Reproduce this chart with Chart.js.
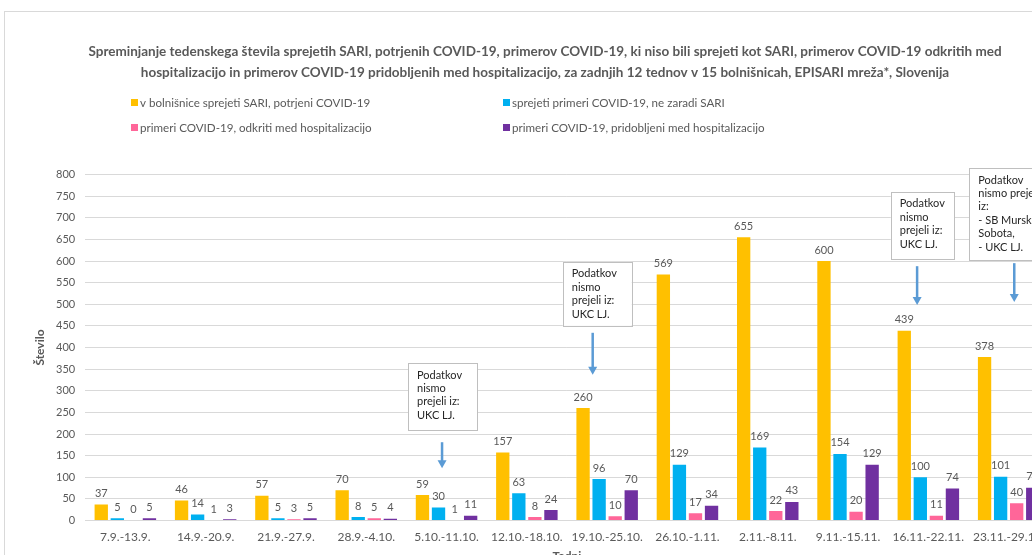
<!DOCTYPE html>
<html><head><meta charset="utf-8">
<script src="https://cdn.jsdelivr.net/npm/chart.js@4.4.0/dist/chart.umd.min.js"></script>
<style>
html,body{margin:0;padding:0;background:#fff;overflow:hidden;width:1032px;height:555px;}
#frame{position:absolute;left:4px;top:11px;width:1100px;height:600px;border:1px solid #d9d9d9;box-sizing:border-box;}
#wrap{position:absolute;left:0;top:0;width:1100px;height:600px;}
</style></head><body>
<div id="frame"></div>
<div id="wrap"><canvas id="c" width="1100" height="600"></canvas></div>
<script>
const categories = ["7.9.-13.9.","14.9.-20.9.","21.9.-27.9.","28.9.-4.10.","5.10.-11.10.","12.10.-18.10.","19.10.-25.10.","26.10.-1.11.","2.11.-8.11.","9.11.-15.11.","16.11.-22.11.","23.11.-29.11."];
const sariConfirmed = [37,46,57,70,59,157,260,569,655,600,439,378];
const notForSari    = [5,14,5,8,30,63,96,129,169,154,100,101];
const detectedInHosp = [0,1,3,5,1,8,10,17,22,20,11,40];
const acquiredInHosp = [5,3,5,4,11,24,70,34,43,129,74,76];
const seriesLabels = ["v bolnišnice sprejeti SARI, potrjeni COVID-19","sprejeti primeri COVID-19, ne zaradi SARI","primeri COVID-19, odkriti med hospitalizacijo","primeri COVID-19, pridobljeni med hospitalizacijo"];
const seriesColors = ["#FFC000","#00B0F0","#FF6699","#7030A0"];
const yTicksMax = 800, yTickStep = 50;
const titleLines = ["Spreminjanje tedenskega števila sprejetih SARI, potrjenih COVID-19, primerov COVID-19, ki niso bili sprejeti kot SARI, primerov COVID-19 odkritih med","hospitalizacijo in primerov COVID-19 pridobljenih med hospitalizacijo, za zadnjih 12 tednov v 15 bolnišnicah, EPISARI mreža*, Slovenija"];
const notes = [
  {lines:["Podatkov","nismo","prejeli iz:","UKC LJ."], x0:3.52, x1:4.38, yTop:364, yBot:209, ax:3.944, aFrom:181, aTo:121},
  {lines:["Podatkov","nismo","prejeli iz:","UKC LJ."], x0:5.447, x1:6.306, yTop:598, yBot:450, ax:5.82, aFrom:434, aTo:337},
  {lines:["Podatkov","nismo","prejeli iz:","UKC LJ."], x0:9.532, x1:10.32, yTop:760, yBot:605, ax:9.86, aFrom:588, aTo:498},
  {lines:["Podatkov","nismo prejeli","iz:","- SB Murska","Sobota,","- UKC LJ."], x0:10.51, x1:11.5, yTop:815, yBot:602, ax:11.07, aFrom:595, aTo:505}
];
const FONT = "Lato, 'Open Sans', sans-serif";
const GREY = "#595959";

const decor = {
  id:'decor',
  afterDraw(chart){
    const ctx = chart.ctx;
    const xs = chart.scales.x, ys = chart.scales.y;
    ctx.save();
    // title
    ctx.fillStyle = GREY;
    ctx.font = "bold 13.5px " + FONT;
    ctx.textAlign = 'center'; ctx.textBaseline = 'middle';
    ctx.fillText(titleLines[0], 545, 52);
    ctx.fillText(titleLines[1], 545, 73);
    // legend
    ctx.font = "11.6px " + FONT;
    ctx.textAlign = 'left';
    const cols = [131, 503], rows = [103, 128];
    seriesLabels.forEach((lab, i) => {
      const cx = cols[i % 2], cy = rows[Math.floor(i / 2)];
      ctx.fillStyle = seriesColors[i];
      ctx.fillRect(cx, cy - 4, 7, 7);
      ctx.fillStyle = GREY;
      ctx.fillText(lab, cx + 9, cy);
    });
    // data labels
    ctx.font = "11px " + FONT;
    ctx.textAlign = 'center';
    ctx.fillStyle = GREY;
    chart.data.datasets.forEach((ds, di) => {
      const meta = chart.getDatasetMeta(di);
      meta.data.forEach((el, j) => {
        ctx.fillText(String(ds.data[j]), el.x, el.y - 11);
      });
    });
    // notes
    notes.forEach(n => {
      const l = xs.getPixelForValue(n.x0), r = xs.getPixelForValue(n.x1);
      const t = ys.getPixelForValue(n.yTop), b = ys.getPixelForValue(n.yBot);
      ctx.fillStyle = '#fff';
      ctx.fillRect(l, t, r - l, b - t);
      ctx.strokeStyle = '#bfbfbf'; ctx.lineWidth = 1;
      ctx.strokeRect(Math.round(l) + 0.5, Math.round(t) + 0.5, Math.round(r - l), Math.round(b - t));
      ctx.fillStyle = '#262626';
      ctx.font = "11px " + FONT;
      ctx.textAlign = 'left';
      n.lines.forEach((s, k) => ctx.fillText(s, l + 9, t + 12 + k * 13.4));
      const ax = xs.getPixelForValue(n.ax);
      const y0 = ys.getPixelForValue(n.aFrom), y1 = ys.getPixelForValue(n.aTo);
      ctx.strokeStyle = '#5B9BD5'; ctx.lineWidth = 2.5;
      ctx.beginPath(); ctx.moveTo(ax, y0); ctx.lineTo(ax, y1 - 7); ctx.stroke();
      ctx.fillStyle = '#5B9BD5';
      ctx.beginPath(); ctx.moveTo(ax - 4.5, y1 - 8); ctx.lineTo(ax + 4.5, y1 - 8); ctx.lineTo(ax, y1); ctx.closePath(); ctx.fill();
    });
    ctx.restore();
  }
};

new Chart(document.getElementById('c'), {
  type: 'bar',
  data: {
    labels: categories,
    datasets: [sariConfirmed, notForSari, detectedInHosp, acquiredInHosp].map((d, i) => ({
      label: seriesLabels[i], data: d, backgroundColor: seriesColors[i], borderWidth: 0,
      categoryPercentage: 0.8, barPercentage: 0.83
    }))
  },
  options: {
    responsive: false, animation: false, devicePixelRatio: 1,
    layout: {padding: {left: 0, right: 51.2, top: 174.5, bottom: 0}},
    plugins: {legend: {display: false}, title: {display: false}, tooltip: {enabled: false}},
    scales: {
      x: {
        grid: {display: false, drawTicks: false},
        border: {display: true, color: '#d9d9d9'},
        ticks: {color: GREY, font: {family: FONT, size: 12}, padding: 9.3, maxRotation: 0, autoSkip: false},
        title: {display: true, text: 'Tedni', color: GREY, font: {family: FONT, size: 12, weight: 'bold'}, padding: {top: 0, bottom: 36.8}},
        afterFit(s){ s.height = 79.5; }
      },
      y: {
        min: 0, max: yTicksMax,
        grid: {color: '#d9d9d9', drawTicks: false},
        border: {display: false},
        ticks: {stepSize: yTickStep, color: GREY, font: {family: FONT, size: 11}, padding: 10},
        title: {display: true, text: 'Število', color: GREY, font: {family: FONT, size: 12, weight: 'bold'}, padding: {top: 33, bottom: 0}},
        afterFit(s){ s.width = 85.2; }
      }
    }
  },
  plugins: [decor]
});
</script>
</body></html>
